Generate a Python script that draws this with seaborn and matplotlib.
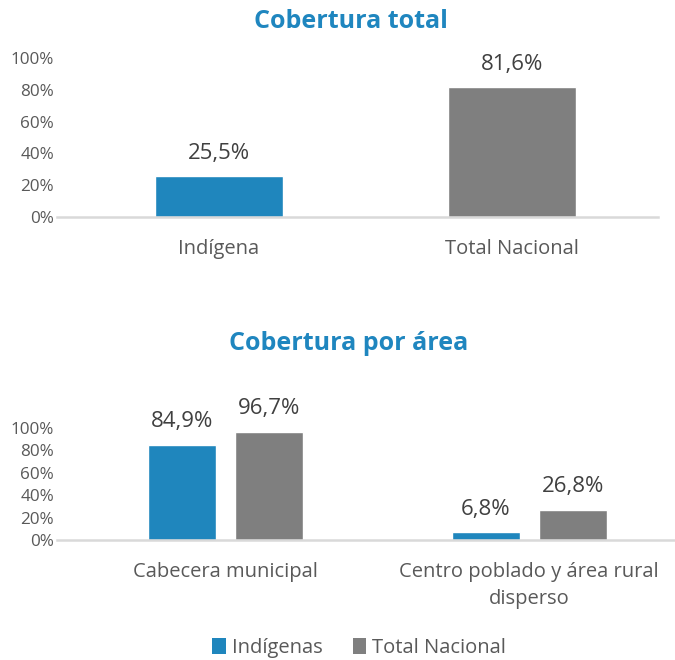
import matplotlib
matplotlib.use("Agg")
import matplotlib.pyplot as plt
from matplotlib.patches import Patch
import seaborn as sns
import pandas as pd

# Cobertura total
total_categories = ["Indígena", "Total Nacional"]
total_values = [0.255, 0.816]

# Cobertura por área
area_categories = ["Cabecera municipal", "Centro poblado y área rural\ndisperso"]
indigenas_values = [0.849, 0.068]
nacional_values = [0.967, 0.268]
series_names = ["Indígenas", "Total Nacional"]

y_ticks = [0, 0.2, 0.4, 0.6, 0.8, 1.0]
y_tick_labels = ["0%", "20%", "40%", "60%", "80%", "100%"]

BLUE = "#1F86BD"
GRAY = "#7F7F7F"
TITLE = "#1F86BF"
TEXT = "#404040"
LABEL = "#595959"
AXIS = "#D9D9D9"

sns.set_theme(style="white")
plt.rcParams["font.family"] = ["Open Sans", "DejaVu Sans"]


def fmt(v):
    return f"{v * 100:.1f}%".replace(".", ",")


def style_axes(ax, pad):
    for side in ("top", "right", "left"):
        ax.spines[side].set_visible(False)
    ax.spines["bottom"].set_color(AXIS)
    ax.spines["bottom"].set_linewidth(1.8)
    ax.set_ylim(0, 1)
    ax.set_yticks(y_ticks)
    ax.set_yticklabels(y_tick_labels)
    ax.tick_params(axis="y", length=0, pad=2, labelsize=12.3, labelcolor=LABEL)
    ax.tick_params(axis="x", length=0, pad=pad, labelsize=14.5, labelcolor=LABEL)
    ax.set_xlabel("")
    ax.set_ylabel("")


fig = plt.figure(figsize=(6.75, 6.6), dpi=100)

# Top chart
ax1 = fig.add_axes([57 / 675, 1 - 217 / 660, 601 / 675, 159 / 660])
df_total = pd.DataFrame({"cat": total_categories, "val": total_values})
sns.barplot(data=df_total, x="cat", y="val", hue="cat", palette=[BLUE, GRAY],
            legend=False, width=0.437, saturation=1, ax=ax1)
style_axes(ax1, pad=16)
ax1.set_xlim(-0.553, 1.498)
for bar, v in zip(ax1.patches, total_values):
    ax1.annotate(fmt(v), (bar.get_x() + bar.get_width() / 2, bar.get_height()),
                 xytext=(0, 9), textcoords="offset points", ha="center", va="bottom",
                 fontsize=16, color=TEXT, annotation_clip=False)
fig.text(351 / 675, 1 - 22 / 660, "Cobertura total", ha="center", va="center",
         fontsize=18, fontweight="bold", color=TITLE)

# Bottom chart
ax2 = fig.add_axes([57 / 675, 1 - 540 / 660, 618 / 675, 112 / 660])
df_area = pd.DataFrame({
    "area": area_categories * 2,
    "grupo": [series_names[0]] * 2 + [series_names[1]] * 2,
    "val": indigenas_values + nacional_values,
})
sns.barplot(data=df_area, x="area", y="val", hue="grupo", palette=[BLUE, GRAY],
            width=0.573, gap=0.22, saturation=1, legend=False, ax=ax2)
style_axes(ax2, pad=16)
for lbl in ax2.get_xticklabels():
    lbl.set_linespacing(1.45)
ax2.set_xlim(-0.555, 1.48)
for bar in ax2.patches:
    h = bar.get_height()
    ax2.annotate(fmt(h), (bar.get_x() + bar.get_width() / 2, h),
                 xytext=(0, 9), textcoords="offset points", ha="center", va="bottom",
                 fontsize=16, color=TEXT, annotation_clip=False)
fig.text(349 / 675, 1 - 343 / 660, "Cobertura por área", ha="center", va="center",
         fontsize=18, fontweight="bold", color=TITLE)

handles = [Patch(facecolor=BLUE, edgecolor="none"), Patch(facecolor=GRAY, edgecolor="none")]
fig.legend(handles, series_names, loc="center", bbox_to_anchor=(359 / 675, 1 - 648 / 660),
           ncol=2, frameon=False, fontsize=14.5, handlelength=0.65, handleheight=0.85,
           handletextpad=0.3, columnspacing=1.5, labelcolor=LABEL)

fig.savefig("out.png", dpi=100)
